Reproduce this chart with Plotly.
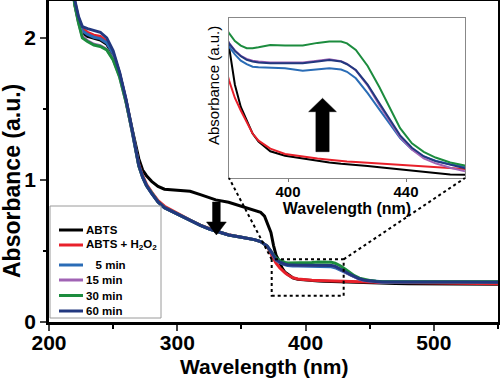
import plotly.graph_objects as go

# ---------------- data ----------------
wavelength = [215, 220, 223, 226, 230, 235, 240, 245, 250, 255, 260, 265, 270, 273, 276,
              280, 285, 290, 300, 310, 318, 325, 330, 340, 350, 355, 360, 365, 368, 370,
              373, 375, 377, 380, 382, 384, 386, 388, 390, 394, 399, 405, 410, 414, 418,
              420, 423, 427, 431, 435, 438, 442, 446, 450, 455, 460, 470, 480, 500, 520, 550]

abts = [2.7, 2.24, 2.12, 2.04, 2.01, 1.995, 1.985, 1.955, 1.88, 1.745, 1.56, 1.35, 1.15, 1.07, 1.03,
        0.99, 0.955, 0.935, 0.928, 0.92, 0.897, 0.875, 0.86, 0.843, 0.815, 0.80, 0.79, 0.772, 0.745, 0.70,
        0.63, 0.54, 0.47, 0.418, 0.375, 0.35, 0.335, 0.32, 0.311, 0.30, 0.295, 0.292, 0.289, 0.2875, 0.286,
        0.2855, 0.285, 0.2835, 0.282, 0.2805, 0.2795, 0.278, 0.277, 0.2755, 0.274, 0.273, 0.271, 0.27, 0.268, 0.267, 0.265]

abts_h2o2 = [2.7, 2.26, 2.14, 2.065, 2.04, 2.02, 2.01, 1.975, 1.895, 1.75, 1.56, 1.34, 1.11, 1.03, 0.97,
             0.915, 0.855, 0.815, 0.765, 0.718, 0.682, 0.656, 0.641, 0.614, 0.598, 0.591, 0.58, 0.566, 0.55, 0.535,
             0.48, 0.445, 0.415, 0.38, 0.36, 0.346, 0.333, 0.32, 0.312, 0.303, 0.297, 0.294, 0.292, 0.2905, 0.289,
             0.2885, 0.288, 0.287, 0.286, 0.285, 0.2845, 0.2835, 0.2825, 0.2815, 0.2805, 0.279, 0.277, 0.276, 0.274, 0.272, 0.27]

min5 = [2.7, 2.25, 2.13, 2.05, 2.025, 2.005, 1.995, 1.965, 1.89, 1.75, 1.56, 1.34, 1.10, 1.02, 0.96,
        0.905, 0.845, 0.805, 0.76, 0.715, 0.68, 0.655, 0.64, 0.613, 0.597, 0.59, 0.58, 0.566, 0.55, 0.535,
        0.497, 0.47, 0.435, 0.4177, 0.409, 0.402, 0.398, 0.3952, 0.3945, 0.394, 0.3934, 0.3907, 0.3925, 0.3934, 0.392,
        0.3895, 0.3822, 0.3655, 0.347, 0.328, 0.315, 0.302, 0.294, 0.2895, 0.2855, 0.2827, 0.2835, 0.284, 0.2845, 0.2845, 0.284]

min15 = [2.7, 2.24, 2.11, 2.01, 1.98, 1.955, 1.945, 1.92, 1.85, 1.73, 1.55, 1.34, 1.10, 1.02, 0.96,
         0.905, 0.845, 0.805, 0.76, 0.715, 0.68, 0.655, 0.64, 0.613, 0.597, 0.59, 0.58, 0.566, 0.55, 0.535,
         0.497, 0.47, 0.44, 0.422, 0.4135, 0.4075, 0.404, 0.402, 0.401, 0.40, 0.40, 0.40, 0.402, 0.4035, 0.4015,
         0.3985, 0.391, 0.374, 0.352, 0.331, 0.316, 0.302, 0.292, 0.2865, 0.2815, 0.2775, 0.279, 0.281, 0.282, 0.282, 0.282]

min30 = [2.7, 2.235, 2.105, 2.0, 1.975, 1.95, 1.94, 1.915, 1.845, 1.725, 1.55, 1.34, 1.10, 1.02, 0.96,
         0.905, 0.845, 0.805, 0.76, 0.715, 0.68, 0.655, 0.64, 0.613, 0.597, 0.59, 0.58, 0.566, 0.55, 0.535,
         0.497, 0.47, 0.45, 0.433, 0.424, 0.419, 0.416, 0.416, 0.417, 0.4195, 0.419, 0.419, 0.422, 0.4235, 0.4235,
         0.4215, 0.414, 0.396, 0.372, 0.345, 0.326, 0.309, 0.2995, 0.293, 0.2875, 0.284, 0.2835, 0.284, 0.284, 0.2835, 0.283]

min60 = [2.7, 2.27, 2.15, 2.08, 2.065, 2.05, 2.04, 2.0, 1.91, 1.76, 1.57, 1.345, 1.105, 1.02, 0.96,
         0.905, 0.845, 0.805, 0.76, 0.715, 0.68, 0.655, 0.64, 0.613, 0.597, 0.59, 0.58, 0.566, 0.55, 0.535,
         0.497, 0.47, 0.44, 0.4215, 0.413, 0.407, 0.403, 0.401, 0.40, 0.399, 0.399, 0.399, 0.401, 0.4028, 0.401,
         0.398, 0.3915, 0.375, 0.354, 0.333, 0.318, 0.304, 0.2945, 0.289, 0.285, 0.281, 0.2815, 0.282, 0.2815, 0.281, 0.28]

series_names = ["ABTS", "ABTS + H<sub>2</sub>O<sub>2</sub>", "\u00a0\u00a0\u00a05 min", "15 min", "30 min", "60 min"]
series_values = [abts, abts_h2o2, min5, min15, min30, min60]
series_colors = ["#000000", "#e8202a", "#2a6cb6", "#a063b4", "#1c8c3e", "#22387f"]

x_ticks = [200, 300, 400, 500]
y_ticks = [0, 1, 2]
inset_ticks = [400, 440]

# ---------------- layout geometry (pixels of the 500x379 canvas) ----------------
W, H = 500, 379
ML, MR, MT, MB = 49, 2, 1, 57
PW, PH = W - ML - MR, H - MT - MB


def paper_x(pix):
    return (pix - ML) / PW


def paper_y(pix):
    return (H - MB - pix) / PH


FONT = "Liberation Sans, Arial, sans-serif"
fig = go.Figure()

for name, vals, col in zip(series_names, series_values, series_colors):
    fig.add_trace(go.Scatter(x=wavelength, y=vals, mode="lines", name=name, showlegend=False,
                             line=dict(color=col, width=3), xaxis="x", yaxis="y"))
for name, vals, col in zip(series_names, series_values, series_colors):
    fig.add_trace(go.Scatter(x=wavelength, y=vals, mode="lines", name=name, showlegend=False,
                             line=dict(color=col, width=2), xaxis="x2", yaxis="y2"))

X_RANGE = [200, 550]
Y_RANGE = [0, 2.26]
IN_X_RANGE = [380, 460]
IN_Y_RANGE = [0.27, 0.45]
IN_DOM_X = [paper_x(229), paper_x(465)]
IN_DOM_Y = [paper_y(178), paper_y(18)]

fig.update_layout(
    width=W, height=H,
    margin=dict(l=ML, r=MR, t=MT, b=MB),
    paper_bgcolor="white", plot_bgcolor="white",
    font=dict(family=FONT, color="black"),
    showlegend=False,
    xaxis=dict(range=X_RANGE, domain=[0, 1], tickvals=x_ticks, ticks="outside", ticklen=6, tickwidth=2,
               minor=dict(dtick=50, ticks="outside", ticklen=4, tickwidth=2, tickcolor="black"),
               showline=True, linewidth=2.5, linecolor="black", mirror=True, showgrid=False, zeroline=False,
               tickfont=dict(size=21, weight="bold"), ticklabelstandoff=-6,
               automargin=False),
    yaxis=dict(range=Y_RANGE, domain=[0, 1], tickvals=y_ticks, ticks="outside", ticklen=6, tickwidth=2,
               minor=dict(dtick=0.5, ticks="outside", ticklen=3, tickwidth=2, tickcolor="black"),
               showline=True, linewidth=2.5, linecolor="black", mirror=True, showgrid=False, zeroline=False,
               tickfont=dict(size=21, weight="bold"),
               automargin=False),
    xaxis2=dict(range=IN_X_RANGE, domain=IN_DOM_X, anchor="y2", tickvals=inset_ticks, ticks="outside",
                ticklen=3, tickwidth=1, tickcolor="#777", showline=True, linewidth=1, linecolor="#888",
                mirror=True, showgrid=False, zeroline=False,
                tickfont=dict(size=15, weight="bold"), ticklabelstandoff=-3,
                title=dict(text="Wavelength (nm)", font=dict(size=16, weight="bold"), standoff=0),
                automargin=False),
    yaxis2=dict(range=IN_Y_RANGE, domain=IN_DOM_Y, anchor="x2", showticklabels=False, ticks="",
                showline=True, linewidth=1, linecolor="#888", mirror=True, showgrid=False, zeroline=False,
                automargin=False),
)

# axis titles placed as in the reference
fig.add_annotation(text="Wavelength (nm)", xref="paper", yref="paper", x=paper_x(264), y=paper_y(366),
                   showarrow=False, xanchor="center", yanchor="middle",
                   font=dict(size=21, weight="bold", family=FONT))
fig.add_annotation(text="Absorbance (a.u.)", xref="paper", yref="paper", x=paper_x(12), y=paper_y(181),
                   showarrow=False, xanchor="center", yanchor="middle", textangle=-90,
                   font=dict(size=23, weight="bold", family=FONT))
fig.add_annotation(text="Absorbance (a.u.)", xref="paper", yref="paper", x=paper_x(213), y=paper_y(86),
                   showarrow=False, xanchor="center", yanchor="middle", textangle=-90,
                   font=dict(size=15, family=FONT))

# legend box
LEG_BOX = dict(x0=50, x1=161, y0=206, y1=318)
LEG_ROWS = [230, 245, 265, 280, 295.5, 311]
fig.add_shape(type="rect", xref="paper", yref="paper", x0=paper_x(LEG_BOX["x0"]), x1=paper_x(LEG_BOX["x1"]),
              y0=paper_y(LEG_BOX["y1"]), y1=paper_y(LEG_BOX["y0"]),
              fillcolor="white", line=dict(color="#9a9a9a", width=1), layer="above")
for name, col, row in zip(series_names, series_colors, LEG_ROWS):
    fig.add_shape(type="line", xref="paper", yref="paper", x0=paper_x(59), x1=paper_x(83),
                  y0=paper_y(row), y1=paper_y(row), line=dict(color=col, width=3), layer="above")
    fig.add_annotation(text=name, xref="paper", yref="paper", x=paper_x(84), y=paper_y(row),
                       showarrow=False, xanchor="left", yanchor="middle",
                       font=dict(size=11.5, weight="bold", family=FONT))


def px(wl):
    return (wl - X_RANGE[0]) / (X_RANGE[1] - X_RANGE[0])


def py(v):
    return (v - Y_RANGE[0]) / (Y_RANGE[1] - Y_RANGE[0])


# zoom box in main plot
BOX = dict(x0=373.6, x1=429.7, y0=0.185, y1=0.441)
fig.add_shape(type="rect", xref="x", yref="y", x0=BOX["x0"], x1=BOX["x1"], y0=BOX["y0"], y1=BOX["y1"],
              line=dict(color="black", width=2, dash="dot"))
# connectors
fig.add_shape(type="line", xref="paper", yref="paper", x0=px(BOX["x0"]), y0=py(BOX["y1"]),
              x1=IN_DOM_X[0], y1=IN_DOM_Y[0], line=dict(color="black", width=2, dash="dot"))
fig.add_shape(type="line", xref="paper", yref="paper", x0=px(BOX["x1"]), y0=py(BOX["y1"]),
              x1=IN_DOM_X[1], y1=IN_DOM_Y[0], line=dict(color="black", width=2, dash="dot"))

# down arrow in main plot
cx, sw, hw = 330.5, 3.0, 7.7
ytop, yneck, ytip = 0.845, 0.704, 0.613
fig.add_shape(type="path", xref="x", yref="y", fillcolor="black", line=dict(color="black", width=0.5),
              path=f"M {cx-sw},{ytop} L {cx+sw},{ytop} L {cx+sw},{yneck} L {cx+hw},{yneck} "
                   f"L {cx},{ytip} L {cx-hw},{yneck} L {cx-sw},{yneck} Z")
# up arrow in inset
cx2, sw2, hw2 = 411.7, 2.25, 4.7
ybot2, yneck2, ytip2 = 0.2996, 0.3446, 0.3597
fig.add_shape(type="path", xref="x2", yref="y2", fillcolor="black", line=dict(color="black", width=0.5),
              path=f"M {cx2-sw2},{ybot2} L {cx2+sw2},{ybot2} L {cx2+sw2},{yneck2} L {cx2+hw2},{yneck2} "
                   f"L {cx2},{ytip2} L {cx2-hw2},{yneck2} L {cx2-sw2},{yneck2} Z")

fig.write_html("out.html", config={"displayModeBar": False},
               post_script="document.body.style.margin='0px';")
